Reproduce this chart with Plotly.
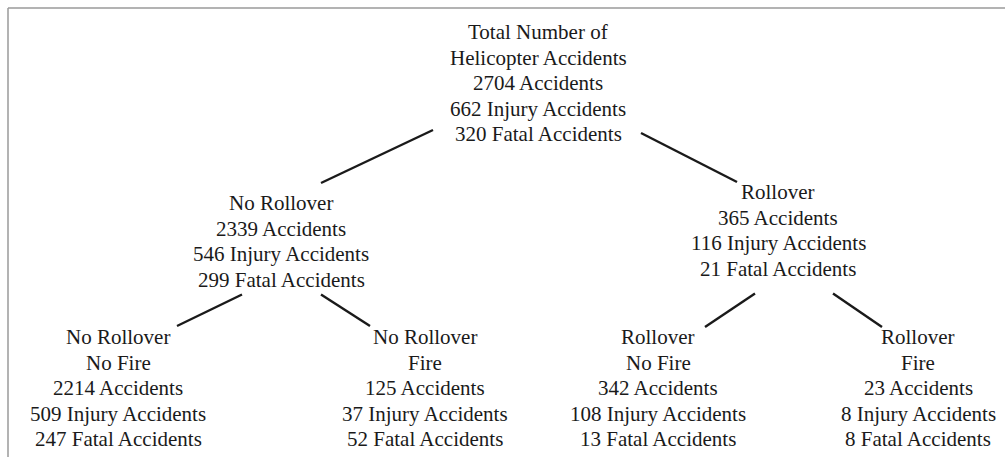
import plotly.graph_objects as go

# ---- data ----
node_labels = [
    "Total Number of|Helicopter Accidents",
    "No Rollover",
    "Rollover",
    "No Rollover|No Fire",
    "No Rollover|Fire",
    "Rollover|No Fire",
    "Rollover|Fire",
]
accidents = [2704, 2339, 365, 2214, 125, 342, 23]
injury_accidents = [662, 546, 116, 509, 37, 108, 8]
fatal_accidents = [320, 299, 21, 247, 52, 13, 8]
parent_index = [None, 0, 0, 1, 1, 2, 2]

# ---- layout (pixel positions in a 1005x457 canvas) ----
W, H = 1005, 457
NODE_X = [538, 281, 778, 118, 425, 658, 918]
NODE_Y0 = [32, 203, 192, 337, 337, 337, 337]
LINE_STEP = 25.5
FONT_FAMILY = "Liberation Serif"
FONT_SIZE = 21
TEXT_COLOR = "#1a1a1a"
# edge offsets: (start dx, start dy from parent's last line), (end dx, end dy from child's first line)
EDGE_OFF = {
    1: ((-105, -4), (40, -20)),
    2: ((103, -1), (-41, -10)),
    3: ((-39, 15), (59, -11)),
    4: ((40, 15), (-55, -11)),
    5: ((-23, 25), (47, -10)),
    6: ((55, 25), (-36, -10)),
}

fig = go.Figure()

node_lines = []
for i, lab in enumerate(node_labels):
    lines = lab.split("|") + [
        f"{accidents[i]} Accidents",
        f"{injury_accidents[i]} Injury Accidents",
        f"{fatal_accidents[i]} Fatal Accidents",
    ]
    node_lines.append(lines)
    for k, t in enumerate(lines):
        fig.add_annotation(
            x=NODE_X[i], y=NODE_Y0[i] + k * LINE_STEP, text=t,
            xref="x", yref="y", showarrow=False,
            xanchor="center", yanchor="middle",
            font=dict(family=FONT_FAMILY, size=FONT_SIZE, color=TEXT_COLOR),
        )

for c, p in enumerate(parent_index):
    if p is None:
        continue
    (sdx, sdy), (edx, edy) = EDGE_OFF[c]
    p_last = NODE_Y0[p] + (len(node_lines[p]) - 1) * LINE_STEP
    x0, y0 = NODE_X[p] + sdx, p_last + sdy
    x1, y1 = NODE_X[c] + edx, NODE_Y0[c] + edy
    fig.add_trace(go.Scatter(
        x=[x0, x1], y=[y0, y1], mode="lines",
        line=dict(color="#1a1a1a", width=2.4),
        hoverinfo="skip", showlegend=False,
    ))

# frame (left and top edges)
fig.add_shape(type="line", x0=8, y0=H, x1=8, y1=8, xref="x", yref="y",
              line=dict(color="#9a9a9a", width=1.5))
fig.add_shape(type="line", x0=8, y0=8, x1=W, y1=8, xref="x", yref="y",
              line=dict(color="#9a9a9a", width=1.5))

fig.update_xaxes(range=[0, W], visible=False, fixedrange=True)
fig.update_yaxes(range=[H, 0], visible=False, fixedrange=True)
fig.update_layout(
    width=W, height=H, margin=dict(l=0, r=0, t=0, b=0),
    paper_bgcolor="white", plot_bgcolor="white", showlegend=False,
)

fig.write_html("out.html", post_script="document.body.style.margin='0px';",
               config={"displayModeBar": False})
